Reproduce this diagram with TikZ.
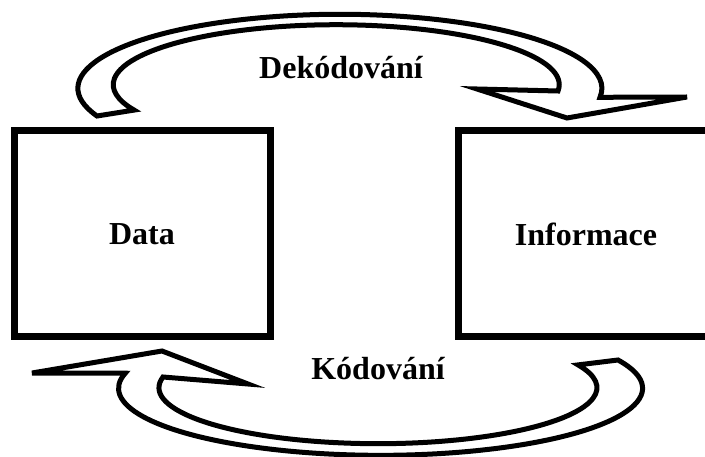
\documentclass[tikz,border=0pt]{standalone}
\usepackage{fontspec}
\setmainfont{Liberation Serif}
\usepackage{tikz}

\begin{document}
\begin{tikzpicture}[x=1pt,y=1pt]
        \useasboundingbox (0,0) rectangle (705,-457);
        \clip (0,0) rectangle (705,-457);
        \begin{scope}[every node/.style={font=\fontsize{32}{38}\selectfont\bfseries}]
            \node[draw,line width=7pt,minimum width=256pt,minimum height=206pt] (1) at (142,-234) {Data};
            \node[draw,line width=7pt,minimum width=256pt,minimum height=206pt] (2) at (586,-234) {Informace};

            \node[anchor=base] (3) at (341,-79) {Dekódování};
            \node[anchor=base] (4) at (378,-380) {Kódování};
        \end{scope}
        \begin{scope}[line width=5pt,line join=miter]
            \draw (97,-116) arc[start angle=202,end angle=-7,x radius=262,y radius=74]
                -- (687,-97) -- (567,-118) -- (477,-89) -- (558,-91)
                arc[start angle=-6,end angle=205,x radius=223,y radius=60] -- cycle;

            \draw (618,-360) arc[start angle=25,end angle=-193,x radius=262,y radius=67]
                -- (32,-373) -- (162,-351) -- (248,-384) -- (163,-377)
                arc[start angle=169,end angle=384,x radius=219,y radius=56] -- cycle;
        \end{scope}
    \end{tikzpicture}
\end{document}
